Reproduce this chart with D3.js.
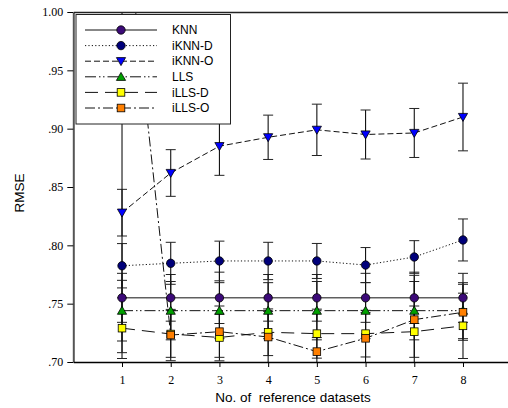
<!DOCTYPE html>
<html><head><meta charset="utf-8">
<script src="https://cdn.jsdelivr.net/npm/d3@7"></script>
<style>
html,body{margin:0;padding:0;background:#fff;}
svg{display:block;}
.serif text{font-family:'Liberation Serif','DejaVu Serif','Times New Roman',serif !important;}
</style></head>
<body>
<svg id="c" width="508" height="408"></svg>
<script>
const categories = [1,2,3,4,5,6,7,8];
const seriesNames = ["KNN","iKNN-D","iKNN-O","LLS","iLLS-D","iLLS-O"];
const knnValues   = [0.755,0.755,0.755,0.755,0.755,0.755,0.755,0.755];
const knnErrors   = [0.021,0.020,0.022,0.020,0.020,0.021,0.022,0.021];
const iknnDValues = [0.7825,0.7846,0.7866,0.7866,0.7866,0.7831,0.790,0.8046];
const iknnDErrors = [0.019,0.018,0.017,0.016,0.015,0.015,0.014,0.018];
const iknnOValues = [0.828,0.862,0.885,0.8926,0.899,0.895,0.8963,0.910];
const iknnOErrors = [0.020,0.020,0.025,0.019,0.022,0.021,0.021,0.029];
const llsValues   = [0.744,0.744,0.744,0.744,0.744,0.744,0.744,0.744];
const llsErrors   = [0.026,0.025,0.024,0.024,0.025,0.024,0.025,0.024];
const illsDValues = [0.729,0.724,0.721,0.7255,0.7243,0.7243,0.726,0.731];
const illsDErrors = [0.026,0.020,0.020,0.020,0.021,0.020,0.022,0.028];
const illsOValues = [1.108,0.7231,0.726,0.7214,0.7089,0.7203,0.7363,0.7426];
const illsOErrors = [0.40,0.022,0.022,0.022,0.012,0.022,0.038,0.024];
const yTickValues = [0.70,0.75,0.80,0.85,0.90,0.95,1.00];
const yTickLabels = [".70",".75",".80",".85",".90",".95","1.00"];
const xTickLabels = ["1","2","3","4","5","6","7","8"];
const xTitle = "No. of  reference datasets";
const yTitle = "RMSE";

const styles = [
  {color:"#3c0a78", dash:null,               shape:"circle"},
  {color:"#00007a", dash:"1.2,2.2",          shape:"circle"},
  {color:"#0000ff", dash:"6,3",              shape:"tri"},
  {color:"#00a000", dash:"11,3,1.5,2.5,1.5,3", shape:"triup"},
  {color:"#ffff00", dash:"13,7",             shape:"square"},
  {color:"#ff7f00", dash:"10,3,2,3",         shape:"square"}
];
const seriesVals = [knnValues,iknnDValues,iknnOValues,llsValues,illsDValues,illsOValues];
const seriesErrs = [knnErrors,iknnDErrors,iknnOErrors,llsErrors,illsDErrors,illsOErrors];

const svg = d3.select("#c");
const x = d3.scaleLinear().domain([0,9]).range([73.3,511.7]);
const y = d3.scaleLinear().domain([0.70,1.00]).range([362,12]);

svg.append("defs").append("clipPath").attr("id","pc")
  .append("rect").attr("x",73).attr("y",12).attr("width",440).attr("height",350);

const plot = svg.append("g").attr("clip-path","url(#pc)");

function drawMarker(g, shape, color, cx, cy){
  if(shape==="circle"){
    g.append("circle").attr("cx",cx).attr("cy",cy).attr("r",4.2)
     .attr("fill",color).attr("stroke","#000").attr("stroke-width",0.8);
  } else if(shape==="tri"){
    g.append("path").attr("d",`M${cx-4.6},${cy-3.6}L${cx+4.6},${cy-3.6}L${cx},${cy+4.4}Z`)
     .attr("fill",color).attr("stroke","#000").attr("stroke-width",0.8);
  } else if(shape==="triup"){
    g.append("path").attr("d",`M${cx-4.6},${cy+3.6}L${cx+4.6},${cy+3.6}L${cx},${cy-4.4}Z`)
     .attr("fill",color).attr("stroke","#000").attr("stroke-width",0.8);
  } else {
    g.append("rect").attr("x",cx-3.8).attr("y",cy-3.8).attr("width",7.6).attr("height",7.6)
     .attr("fill",color).attr("stroke","#000").attr("stroke-width",0.8);
  }
}

// error bars
seriesVals.forEach((vals,si)=>{
  const errs = seriesErrs[si];
  const g = plot.append("g");
  categories.forEach((c,i)=>{
    const lo = vals[i]-errs[i], hi = vals[i]+errs[i];
    g.append("line").attr("x1",x(c)).attr("x2",x(c)).attr("y1",y(lo)).attr("y2",y(hi))
      .attr("stroke","#111").attr("stroke-width",1.1);
    [lo,hi].forEach(v=>{
      g.append("line").attr("x1",x(c)-5).attr("x2",x(c)+5).attr("y1",y(v)).attr("y2",y(v))
        .attr("stroke","#222").attr("stroke-width",1);
    });
  });
});

// lines
const line = d3.line().x((d,i)=>x(categories[i])).y(d=>y(d));
seriesVals.forEach((vals,si)=>{
  const p = plot.append("path").datum(vals).attr("d",line)
    .attr("fill","none").attr("stroke","#111").attr("stroke-width",1);
  if(styles[si].dash) p.attr("stroke-dasharray",styles[si].dash);
});

// markers
seriesVals.forEach((vals,si)=>{
  const g = plot.append("g");
  categories.forEach((c,i)=>{
    if(vals[i] <= 1.0) drawMarker(g, styles[si].shape, styles[si].color, x(c), y(vals[i]));
  });
});

// axes
const yAxis = d3.axisLeft(y).tickValues(yTickValues).tickFormat((d,i)=>yTickLabels[i])
  .tickSize(6).tickSizeOuter(0).tickPadding(4);
const gy = svg.append("g").attr("class","serif").attr("transform","translate(73.3,0)").call(yAxis);
gy.attr("font-family",null);
gy.select(".domain").attr("stroke","#555").attr("stroke-width",2);
gy.selectAll(".tick line").attr("stroke","#000");
gy.selectAll("text").style("font-family","'Liberation Serif','DejaVu Serif',serif")
  .style("font-size","12px").attr("fill","#000");

const xAxis = d3.axisBottom(x).tickValues(categories).tickFormat((d,i)=>xTickLabels[i])
  .tickSize(5).tickSizeOuter(0).tickPadding(8);
const gx = svg.append("g").attr("class","serif").attr("transform","translate(0,362)").call(xAxis);
gx.attr("font-family",null);
gx.select(".domain").attr("stroke","#000").attr("stroke-width",1.4);
gx.selectAll(".tick line").attr("stroke","#000");
gx.selectAll("text").style("font-family","'Liberation Serif','DejaVu Serif',serif")
  .style("font-size","12px").attr("fill","#000");

const gt = svg.append("g").attr("transform","translate(0,12)")
  .call(d3.axisTop(x).tickValues([]).tickSizeOuter(0));
gt.select(".domain").attr("stroke","#222").attr("stroke-width",1.4);

// titles
svg.append("text").attr("x",293).attr("y",402).attr("text-anchor","middle")
  .attr("font-family","'Liberation Sans',Arial,sans-serif").attr("font-size","13.5px")
  .style("white-space","pre").text(xTitle);
svg.append("text").attr("transform","translate(24,193) rotate(-90)").attr("text-anchor","middle")
  .attr("font-family","'Liberation Sans',Arial,sans-serif").attr("font-size","13.5px")
  .text(yTitle);

// legend
const lg = svg.append("g");
lg.append("rect").attr("x",76).attr("y",14.5).attr("width",154.5).attr("height",109.5)
  .attr("fill","#fff").attr("stroke","#222").attr("stroke-width",1);
seriesNames.forEach((name,i)=>{
  const ry = 30 + i*15.6;
  const l = lg.append("line").attr("x1",85).attr("x2",157).attr("y1",ry).attr("y2",ry)
    .attr("stroke","#111").attr("stroke-width",1);
  if(styles[i].dash) l.attr("stroke-dasharray",styles[i].dash);
  drawMarker(lg, styles[i].shape, styles[i].color, 121, ry);
  lg.append("text").attr("x",172).attr("y",ry+4.2)
    .attr("font-family","'Liberation Sans',Arial,sans-serif").attr("font-size","12px")
    .attr("fill","#000").text(name);
});
</script>
</body></html>
